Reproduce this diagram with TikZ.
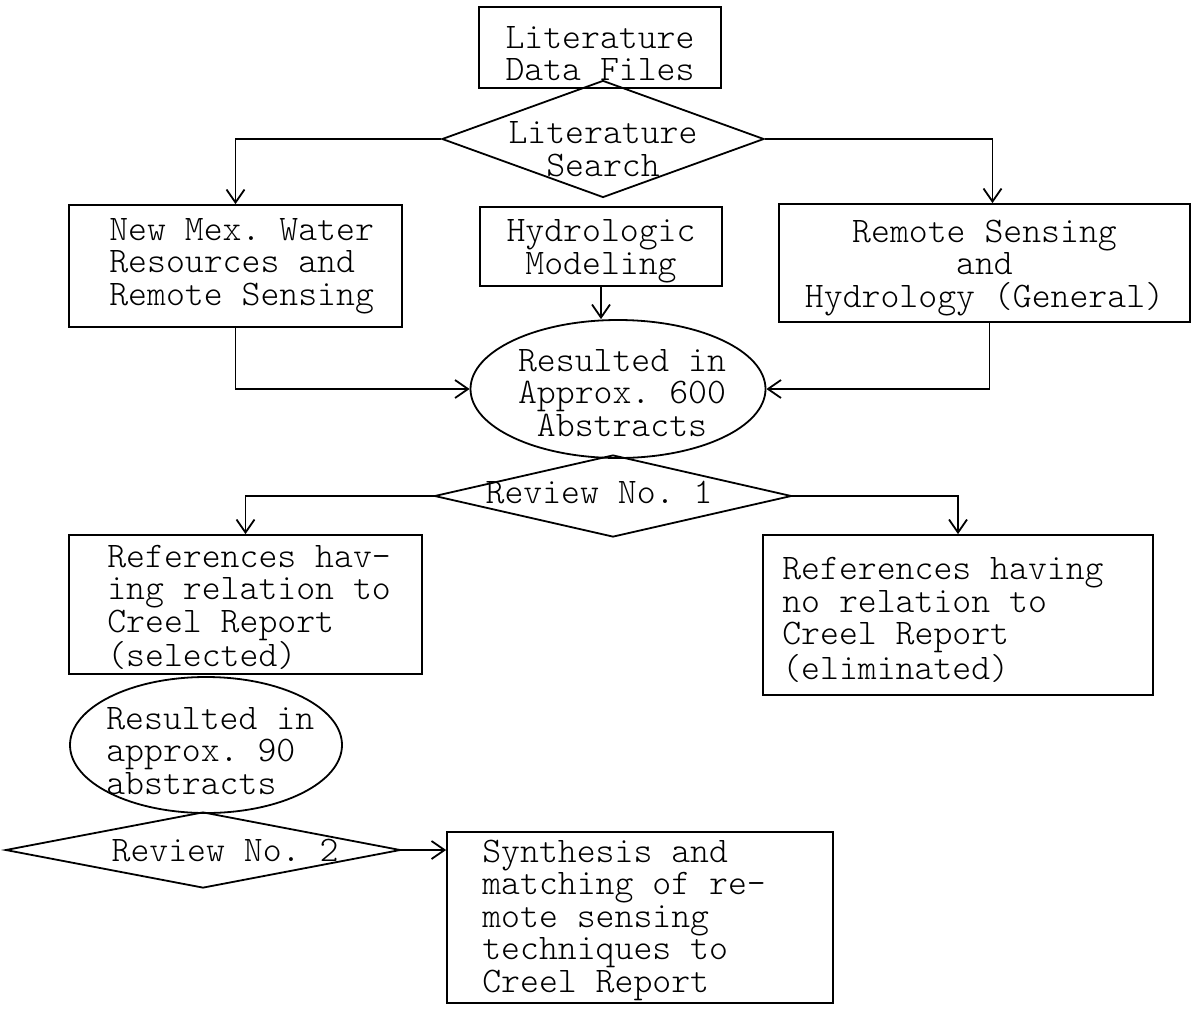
\documentclass[tikz,border=0pt]{standalone}
\usepackage{fontspec}
\setmonofont{Latin Modern Mono Light}
\usetikzlibrary{shapes.geometric,arrows.meta}
\newcommand\twfont{\ttfamily\fontsize{36}{32.5}\selectfont}
\tikzset{
  x=1pt, y=-1pt,
  every label/.style={inner sep=0pt, font=\twfont, align=left},
  box/.style={draw, rectangle, inner sep=0pt, line width=1.8pt},
  dia/.style={draw, diamond, inner sep=0pt, line width=1.8pt},
  ell/.style={draw, ellipse, inner sep=0pt, line width=1.8pt},
  arr/.style={line width=1.8pt, -{Straight Barb[length=13pt,width=18pt,line width=1.8pt]}},
}
\begin{document}
\begin{tikzpicture}
\path[use as bounding box] (0,0) rectangle (1193,1010);

\node[box, minimum width=242pt, minimum height=81pt,
  label={[align=center, yshift=-6pt]center:Literature\\Data Files}] (lit) at (600,47.5) {};
\node[dia, minimum width=322pt, minimum height=117pt,
  label={[align=center, yshift=-10pt]center:Literature\\Search}] (search) at (603,139) {};
\node[box, minimum width=242pt, minimum height=79pt,
  label={[align=center, yshift=-5pt]center:Hydrologic\\Modeling}] (hydro) at (601,246.5) {};
\node[box, minimum width=333pt, minimum height=122pt,
  label={[anchor=west, xshift=41pt]west:New Mex. Water\\Resources and\\Remote Sensing}] (nm) at (235.5,266) {};
\node[box, minimum width=411pt, minimum height=118pt,
  label={[align=center, yshift=-5pt]center:Remote Sensing\\and\\Hydrology (General)}] (rs) at (984.5,263) {};
\node[ell, minimum width=295pt, minimum height=138pt,
  label={[align=center, xshift=4pt, yshift=-4pt]center:Resulted in\\Approx. 600\\Abstracts}] (ell1) at (618,389) {};
\node[dia, minimum width=357pt, minimum height=82pt,
  label={[xshift=-14pt, yshift=4pt]center:Review No. 1}] (rev1) at (613,496) {};
\node[box, minimum width=353pt, minimum height=139pt,
  label={[anchor=west, xshift=39pt, yshift=-3pt]west:References hav-\\ing relation to\\Creel Report\\(selected)}] (sel) at (245.5,604.5) {};
\node[box, minimum width=390pt, minimum height=160pt,
  label={[anchor=west, xshift=20pt, yshift=-5pt]west:References having\\no relation to\\Creel Report\\(eliminated)}] (elim) at (958,615) {};
\node[ell, minimum width=272pt, minimum height=136pt,
  label={[anchor=west, xshift=37pt, yshift=-6pt]west:Resulted in\\approx. 90\\abstracts}] (ell2) at (206,745) {};
\node[dia, minimum width=395pt, minimum height=76pt,
  label={[xshift=22pt]center:Review No. 2}] (rev2) at (203,850) {};
\node[box, minimum width=386pt, minimum height=171pt,
  label={[anchor=west, xshift=36pt, yshift=-2.5pt]west:Synthesis and\\matching of re-\\mote sensing\\techniques to\\Creel Report}] (synth) at (640,917.5) {};

\draw[arr] (search.west) -| (nm.north);
\draw[arr] (search.east) -| ([xshift=8pt]rs.north);
\draw[arr] (hydro.south) -- (hydro.south |- ell1.north);
\draw[arr] (nm.south) |- (ell1.west);
\draw[arr] ([xshift=5pt]rs.south) |- (ell1.east);
\draw[arr] (rev1.west) -| (sel.north);
\draw[arr] (rev1.east) -| (elim.north);
\draw[arr] (rev2.east) -- (rev2.east -| synth.west);
\end{tikzpicture}
\end{document}
